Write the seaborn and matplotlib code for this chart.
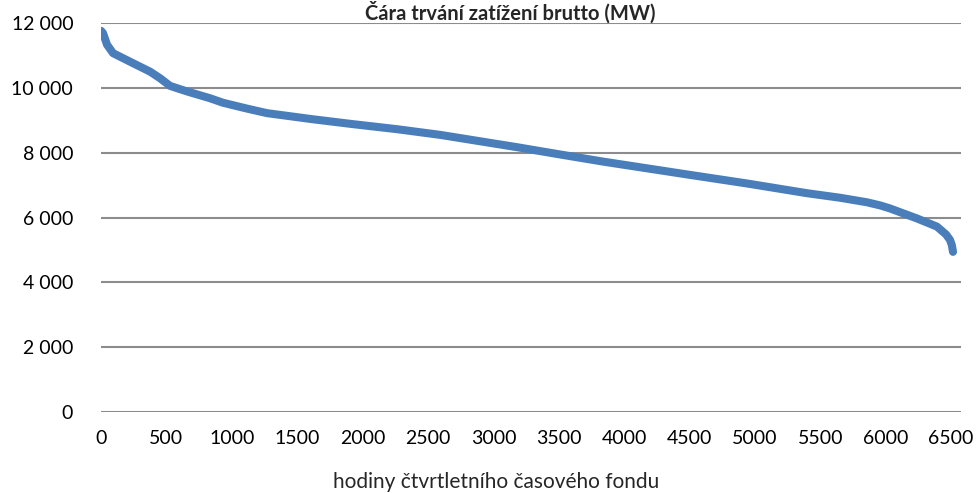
import pandas as pd
import matplotlib.pyplot as plt
import seaborn as sns

# Values (load duration curve)
hours = [0, 15, 46, 92, 245, 375, 450, 528, 657, 833, 933, 1116, 1269, 1621,
         1927, 2263, 2592, 3180, 3532, 3838, 4503, 4939, 5398, 5650, 5856,
         5960, 6032, 6239, 6391, 6460, 6491, 6505, 6514]
load_mw = [11760, 11690, 11330, 11070, 10760, 10500, 10300, 10060, 9890, 9680,
           9540, 9360, 9220, 9030, 8880, 8725, 8550, 8170, 7930, 7725, 7315,
           7050, 6750, 6610, 6470, 6370, 6280, 5970, 5720, 5480, 5310, 5150,
           4940]
y_ticks = [0, 2000, 4000, 6000, 8000, 10000, 12000]
x_ticks = list(range(0, 7000, 500))

title = "Čára trvání zatížení brutto (MW)"
x_label = "hodiny čtvrtletního časového fondu"

df = pd.DataFrame({"hodiny": hours, "zatizeni": load_mw})

sns.set_theme(style="white")
plt.rcParams["font.family"] = ["Lato", "DejaVu Sans"]

fig = plt.figure(figsize=(9.78, 4.93), dpi=100)
ax = fig.add_axes([0.1033, 0.1643, 0.8793, 0.789])

sns.lineplot(data=df, x="hodiny", y="zatizeni", ax=ax, color="#4a7ebb",
             linewidth=5.8, solid_capstyle="round", zorder=3)

ax.set_xlim(0, 6575)
ax.set_ylim(0, 12000)
ax.set_xticks(x_ticks)
ax.set_yticks(y_ticks)
ax.set_yticklabels([f"{v:,}".replace(",", " ") for v in y_ticks])
ax.tick_params(axis="both", length=0, labelsize=14, colors="black")
ax.tick_params(axis="x", pad=13)
ax.tick_params(axis="y", pad=20)

ax.grid(axis="y", color="#8c8c8c", linewidth=1.5)
ax.grid(axis="x", visible=False)
for s in ax.spines.values():
    s.set_visible(False)

ax.set_xlabel(x_label, fontsize=15)
ax.xaxis.set_label_coords(0.459, -0.155)
ax.set_ylabel("")

# title sits in the top strip, just above the 12 000 gridline
fig.text(510 / 978, 1 - 19.5 / 493, title, ha="center", va="baseline",
         fontsize=14.5, fontweight="bold")

plt.savefig("out.png", dpi=100)
